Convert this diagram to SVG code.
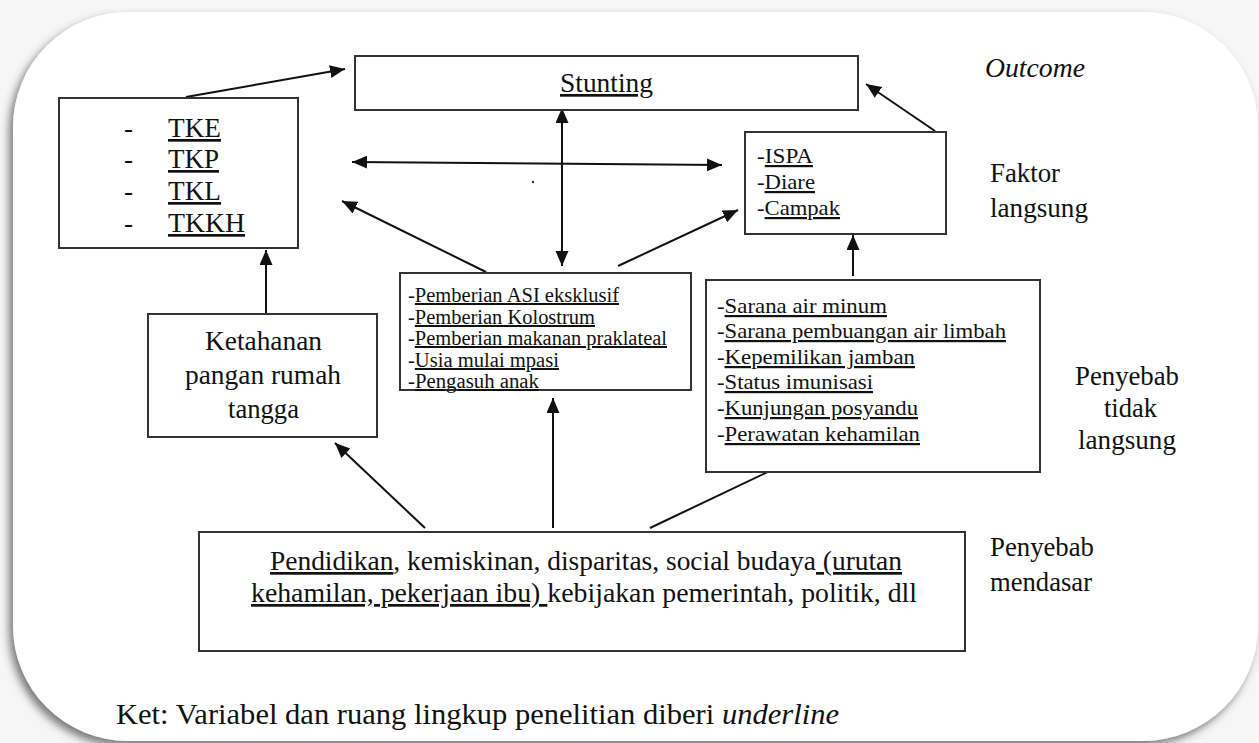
<svg xmlns="http://www.w3.org/2000/svg" width="1259" height="743" viewBox="0 0 1259 743" font-family="Liberation Serif, Times New Roman, serif">
<style>
.t{font-family:'Liberation Serif','Times New Roman',serif;fill:#111}
.box{fill:#fff;stroke:#333;stroke-width:2}
.u{text-decoration:underline}
.c{stroke:#111;stroke-width:2;fill:none;marker-end:url(#ah)}
.d{marker-start:url(#ah)}
.f27{font-size:27px}
.f22{font-size:22px}
.f20{font-size:20px}
</style>
<defs>
<marker id="ah" markerUnits="userSpaceOnUse" markerWidth="16" markerHeight="14" refX="15" refY="6.5" orient="auto-start-reverse"><path d="M0,0 L15,6.5 L0,13 z" fill="#111"/></marker>
<filter id="sh" x="-5%" y="-5%" width="110%" height="110%"><feDropShadow dx="-4" dy="5" stdDeviation="4" flood-color="#444" flood-opacity="0.7"/></filter>
</defs>
<rect width="1259" height="743" fill="#f6f6f6"/>
<rect x="13" y="12" width="1245" height="729" rx="115" ry="115" fill="#fff" filter="url(#sh)"/>

<g id="connectors">
<line class="c" x1="186" y1="97" x2="345" y2="69"/>
<line class="c d" x1="352" y1="162" x2="722" y2="165"/>
<line class="c d" x1="562" y1="108" x2="562" y2="266"/>
<line class="c" x1="486" y1="272" x2="342" y2="201"/>
<line class="c" x1="618" y1="266" x2="738" y2="210"/>
<line class="c" x1="935" y1="131" x2="866" y2="84"/>
<line class="c" x1="853" y1="276" x2="853" y2="235"/>
<line class="c" x1="266" y1="313" x2="266" y2="250"/>
<line class="c" x1="425" y1="528" x2="335" y2="443"/>
<line class="c" x1="553" y1="528" x2="553" y2="398"/>
<line class="c" x1="650" y1="528" x2="795" y2="459"/>
<circle cx="533" cy="182" r="1.2" fill="#333"/>
</g>

<g id="stunting">
<rect class="box" x="355" y="56" width="503" height="54"/>
<text class="t f27 u" x="560" y="92" textLength="93" lengthAdjust="spacingAndGlyphs">Stunting</text>
</g>

<g id="tke">
<rect class="box" x="59" y="98" width="239" height="150"/>
<text class="t f27" x="124" y="137">-</text><text class="t f27 u" x="168" y="137" textLength="53" lengthAdjust="spacingAndGlyphs">TKE</text>
<text class="t f27" x="124" y="168">-</text><text class="t f27 u" x="168" y="168" textLength="51" lengthAdjust="spacingAndGlyphs">TKP</text>
<text class="t f27" x="124" y="200">-</text><text class="t f27 u" x="168" y="200" textLength="53" lengthAdjust="spacingAndGlyphs">TKL</text>
<text class="t f27" x="124" y="232">-</text><text class="t f27 u" x="168" y="232" textLength="77" lengthAdjust="spacingAndGlyphs">TKKH</text>
</g>

<g id="ispa">
<rect class="box" x="745" y="132" width="201" height="102"/>
<text class="t f22" x="757" y="163" textLength="56" lengthAdjust="spacingAndGlyphs">-<tspan class="u">ISPA</tspan></text>
<text class="t f22" x="757" y="189" textLength="58" lengthAdjust="spacingAndGlyphs">-<tspan class="u">Diare</tspan></text>
<text class="t f22" x="757" y="215" textLength="83" lengthAdjust="spacingAndGlyphs">-<tspan class="u">Campak</tspan></text>
</g>

<g id="ketahanan">
<rect class="box" x="148" y="314" width="229" height="123"/>
<text class="t f27" x="205" y="350" textLength="117" lengthAdjust="spacingAndGlyphs">Ketahanan</text>
<text class="t f27" x="185" y="384" textLength="156" lengthAdjust="spacingAndGlyphs">pangan rumah</text>
<text class="t f27" x="228" y="418" textLength="71" lengthAdjust="spacingAndGlyphs">tangga</text>
</g>

<g id="asi">
<rect class="box" x="400" y="273" width="291" height="117"/>
<text class="t f20" x="408" y="302" textLength="211" lengthAdjust="spacingAndGlyphs">-<tspan class="u">Pemberian ASI eksklusif</tspan></text>
<text class="t f20" x="408" y="324" textLength="187" lengthAdjust="spacingAndGlyphs">-<tspan class="u">Pemberian Kolostrum</tspan></text>
<text class="t f20" x="408" y="345" textLength="259" lengthAdjust="spacingAndGlyphs">-<tspan class="u">Pemberian makanan praklateal</tspan></text>
<text class="t f20" x="408" y="367" textLength="151" lengthAdjust="spacingAndGlyphs">-<tspan class="u">Usia mulai mpasi</tspan></text>
<text class="t f20" x="408" y="388" textLength="131" lengthAdjust="spacingAndGlyphs">-<tspan class="u">Pengasuh anak</tspan></text>
</g>

<g id="sarana">
<rect class="box" x="706" y="280" width="334" height="192"/>
<text class="t f22" x="717" y="313" textLength="170" lengthAdjust="spacingAndGlyphs">-<tspan class="u">Sarana air minum</tspan></text>
<text class="t f22" x="717" y="338" textLength="289" lengthAdjust="spacingAndGlyphs">-<tspan class="u">Sarana pembuangan air limbah</tspan></text>
<text class="t f22" x="717" y="364" textLength="198" lengthAdjust="spacingAndGlyphs">-<tspan class="u">Kepemilikan jamban</tspan></text>
<text class="t f22" x="717" y="389" textLength="156" lengthAdjust="spacingAndGlyphs">-<tspan class="u">Status imunisasi</tspan></text>
<text class="t f22" x="717" y="415" textLength="201" lengthAdjust="spacingAndGlyphs">-<tspan class="u">Kunjungan posyandu</tspan></text>
<text class="t f22" x="717" y="441" textLength="203" lengthAdjust="spacingAndGlyphs">-<tspan class="u">Perawatan kehamilan</tspan></text>
</g>

<g id="mendasar">
<rect class="box" x="199" y="532" width="766" height="119"/>
<text class="t f27" x="270" y="570" textLength="632" lengthAdjust="spacingAndGlyphs"><tspan class="u">Pendidikan</tspan>, kemiskinan, disparitas, social budaya<tspan class="u"> (urutan</tspan></text>
<text class="t f27" x="251" y="602" textLength="666" lengthAdjust="spacingAndGlyphs"><tspan class="u">kehamilan, pekerjaan ibu) </tspan>kebijakan pemerintah, politik, dll</text>
</g>

<g id="labels">
<text class="t f27" x="985" y="77" font-style="italic" textLength="100" lengthAdjust="spacingAndGlyphs">Outcome</text>
<text class="t f27" x="990" y="182" textLength="70" lengthAdjust="spacingAndGlyphs">Faktor</text>
<text class="t f27" x="990" y="217" textLength="98" lengthAdjust="spacingAndGlyphs">langsung</text>
<text class="t f27" x="1075" y="385" textLength="104" lengthAdjust="spacingAndGlyphs">Penyebab</text>
<text class="t f27" x="1104" y="417" textLength="53" lengthAdjust="spacingAndGlyphs">tidak</text>
<text class="t f27" x="1078" y="449" textLength="98" lengthAdjust="spacingAndGlyphs">langsung</text>
<text class="t f27" x="990" y="556" textLength="104" lengthAdjust="spacingAndGlyphs">Penyebab</text>
<text class="t f27" x="990" y="591" textLength="102" lengthAdjust="spacingAndGlyphs">mendasar</text>
<text class="t" font-size="29" x="116" y="724" textLength="723" lengthAdjust="spacingAndGlyphs">Ket:  Variabel dan ruang lingkup penelitian diberi <tspan font-style="italic">underline</tspan></text>
</g>
</svg>
